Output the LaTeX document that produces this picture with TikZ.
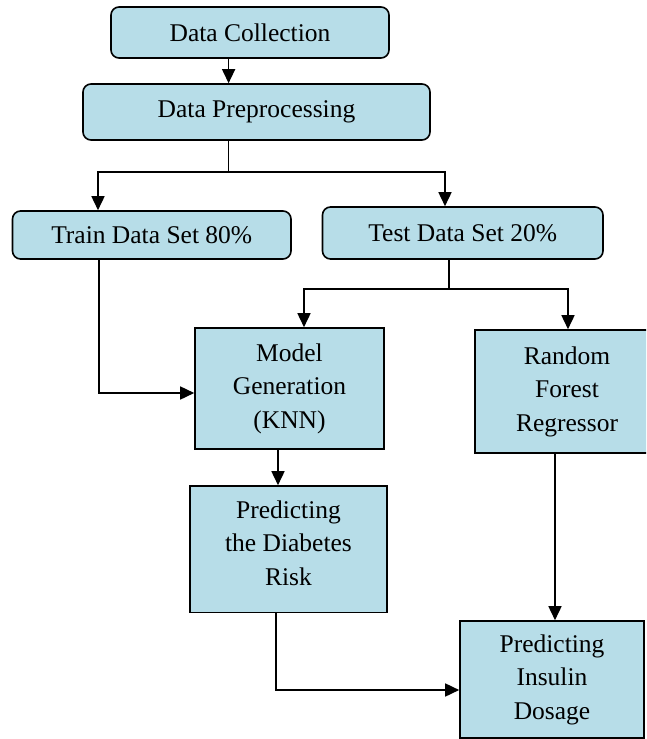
\documentclass[tikz,border=0pt]{standalone}
\usepackage{fontspec}
\setmainfont{Liberation Serif}
\usetikzlibrary{arrows.meta}
\definecolor{boxfill}{HTML}{B7DDE8}
\tikzset{
  base/.style={draw=black, line width=1.6pt, fill=boxfill, inner sep=0pt,
    font=\fontsize{25.5}{33.5}\selectfont, align=center},
  rbox/.style={base, rectangle, rounded corners=8pt},
  sbox/.style={base, rectangle},
  lbl/.style={font=\fontsize{25.5}{33.5}\selectfont, align=center, inner sep=0pt},
  conn/.style={draw=black, line width=1.6pt},
  arr/.style={conn, -{Triangle[length=14pt,width=13pt]}}
}
\begin{document}
\begin{tikzpicture}[x=1pt,y=-1pt]
\useasboundingbox (0,0) rectangle (646,739);
\clip (0,0) rectangle (646,739);

\node[rbox, minimum width=278pt, minimum height=51pt] (dc) at (250,32.5) {Data Collection};
\node[rbox, minimum width=347pt, minimum height=56pt] (dp) at (256.5,112) {Data Preprocessing};
\node[rbox, minimum width=278.5pt, minimum height=48pt] (train) at (151.75,235) {Train Data Set 80\%};
\node[rbox, minimum width=280.5pt, minimum height=52pt] (test) at (462.75,233) {Test Data Set 20\%};
\node[sbox, minimum width=189pt, minimum height=121pt] (model) at (289.5,388.5) {Model\\Generation\\(KNN)};
\node[sbox, minimum width=184pt, minimum height=123pt] (rf) at (567,391.5) {Random\\Forest\\Regressor};
\node[sbox, minimum width=197pt, minimum height=126.5pt,
  label={[lbl, yshift=6pt]center:{Predicting\\the Diabetes\\Risk}}] (risk) at (288.5,549.25) {};
\node[sbox, minimum width=184pt, minimum height=117pt] (ins) at (552,679.5) {Predicting\\Insulin\\Dosage};

% connector coordinates
\coordinate (xa) at (228.6,0);
\coordinate (xl) at (98,172);
\coordinate (xr) at (445,172);
\coordinate (tl) at (99,393);
\coordinate (ts) at (449,289);
\coordinate (ml) at (304,289);
\coordinate (mr) at (568,289);
\coordinate (mx) at (278,0);
\coordinate (rb) at (276,690);
\coordinate (rx) at (555,0);

\draw[arr] (dc.south -| xa) -- (dp.north -| xa);
\draw[arr] (dp.south -| xa) |- (xl) -- (train.north -| xl);
\draw[arr] (xa |- xl) -- (xr) -- (test.north -| xr);
\draw[arr] (train.south -| tl) -- (tl) -- (model.west |- tl);
\draw[conn] (test.south -| ts) -- (ts);
\draw[arr] (ts) -- (ml) -- (model.north -| ml);
\draw[arr] (ts) -- (mr) -- (rf.north -| mr);
\draw[arr] (model.south -| mx) -- (risk.north -| mx);
\draw[arr] (risk.south -| rb) -- (rb) -- (ins.west |- rb);
\draw[arr] (rf.south -| rx) -- (ins.north -| rx);
\end{tikzpicture}
\end{document}
